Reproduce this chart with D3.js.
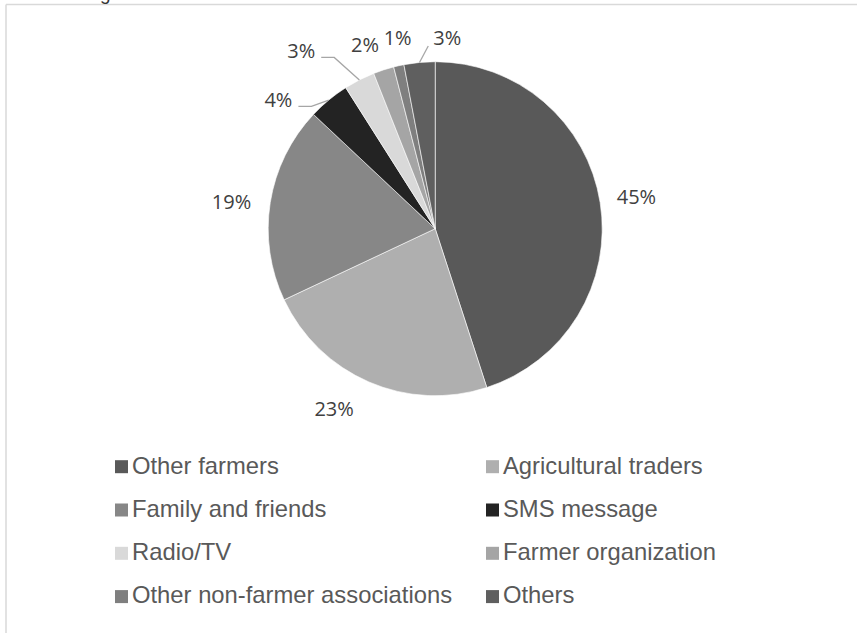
<!DOCTYPE html>
<html>
<head>
<meta charset="utf-8">
<script src="https://cdn.jsdelivr.net/npm/d3@7"></script>
<style>
  html, body { margin: 0; padding: 0; background: #fff; }
  svg { display: block; }
</style>
</head>
<body>
<svg id="chart" width="857" height="633"></svg>
<script>
// Sources of information used by farmers (share of respondents, %)
const categories = [
  "Other farmers", "Agricultural traders", "Family and friends", "SMS message",
  "Radio/TV", "Farmer organization", "Other non-farmer associations", "Others"
];
const shares = [45, 23, 19, 4, 3, 2, 1, 3];
const sliceColors = ["#595959", "#afafaf", "#878787", "#232323",
                     "#d9d9d9", "#a5a5a5", "#7f7f7f", "#5f5f5f"];

// Label placement around the pie: angle shift (degrees) from slice middle, radius factor
const labelPlacement = [
  [0, 1.22], [6, 1.233], [-1.5, 1.23], [-11, 1.215],
  [-10, 1.333], [-2.8, 1.183], [1.5, 1.169], [9, 1.15]
];
// slices whose labels are tied back with a leader line
const leaderSlices = [3, 4, 7];

const svg = d3.select("#chart");
const W = 857, H = 633;

// frame of the chart area (only top and left edges fall inside the view)
svg.append("line").attr("x1", 6).attr("x2", W + 5).attr("y1", 4.5).attr("y2", 4.5)
  .attr("stroke", "#d9d9d9").attr("stroke-width", 1.5);
svg.append("line").attr("x1", 6).attr("x2", 6).attr("y1", 4.5).attr("y2", H + 5)
  .attr("stroke", "#d9d9d9").attr("stroke-width", 1.5);

// tail of the caption line above the frame
svg.append("text").attr("x", 100).attr("y", -0.5)
  .attr("font-family", "Liberation Sans, Arial, sans-serif").attr("font-size", 19)
  .attr("fill", "#333").text("g");

const cx = 435.2, cy = 228.7, r = 167;
const g = svg.append("g").attr("transform", `translate(${cx},${cy})`);

const pie = d3.pie().sort(null).value(d => d);
const arcs = pie(shares);
const arc = d3.arc().innerRadius(0).outerRadius(r);

g.selectAll("path.slice").data(arcs).join("path")
  .attr("class", "slice")
  .attr("d", arc)
  .attr("fill", (d, i) => sliceColors[i])
  .attr("stroke", "#fff").attr("stroke-width", 0.6);

const fmt = d3.format(".0%");
const polar = (ang, rad) => [rad * Math.sin(ang), -rad * Math.cos(ang)];

const labelPos = arcs.map((d, i) => {
  const mid = (d.startAngle + d.endAngle) / 2 + labelPlacement[i][0] * Math.PI / 180;
  return polar(mid, r * labelPlacement[i][1]);
});

// leader lines
leaderSlices.forEach(i => {
  const d = arcs[i];
  const mid = (d.startAngle + d.endAngle) / 2;
  const edge = polar(mid, r);
  const [lx, ly] = labelPos[i];
  let pts;
  if (lx < edge[0] - 15) {
    const tail = [lx + 20, ly + 6.5];
    pts = [tail, [tail[0] + 13, tail[1]], edge];
  } else {
    pts = [[lx - 19, ly + 9], edge];
  }
  g.append("path")
    .attr("d", d3.line()(pts))
    .attr("fill", "none").attr("stroke", "#a6a6a6").attr("stroke-width", 1.3);
});

g.selectAll("text.pct").data(arcs).join("text")
  .attr("class", "pct")
  .attr("x", (d, i) => labelPos[i][0])
  .attr("y", (d, i) => labelPos[i][1])
  .attr("text-anchor", "middle").attr("dominant-baseline", "central")
  .attr("font-family", "Open Sans, sans-serif").attr("font-size", 20)
  .attr("fill", "#404040")
  .text(d => fmt(d.data / 100));

// legend: two columns, row by row
const legend = svg.append("g");
const colX = [115, 486], rowY0 = 473.5, rowStep = 43.3;
categories.forEach((name, i) => {
  const x = colX[i % 2], y = rowY0 + Math.floor(i / 2) * rowStep;
  legend.append("rect").attr("x", x).attr("y", y - 13.3)
    .attr("width", 13).attr("height", 13).attr("fill", sliceColors[i]);
  legend.append("text").attr("x", x + 17).attr("y", y)
    .attr("font-family", "Liberation Sans, Arial, sans-serif").attr("font-size", 23.8)
    .attr("fill", "#595959").text(name);
});
</script>
</body>
</html>
